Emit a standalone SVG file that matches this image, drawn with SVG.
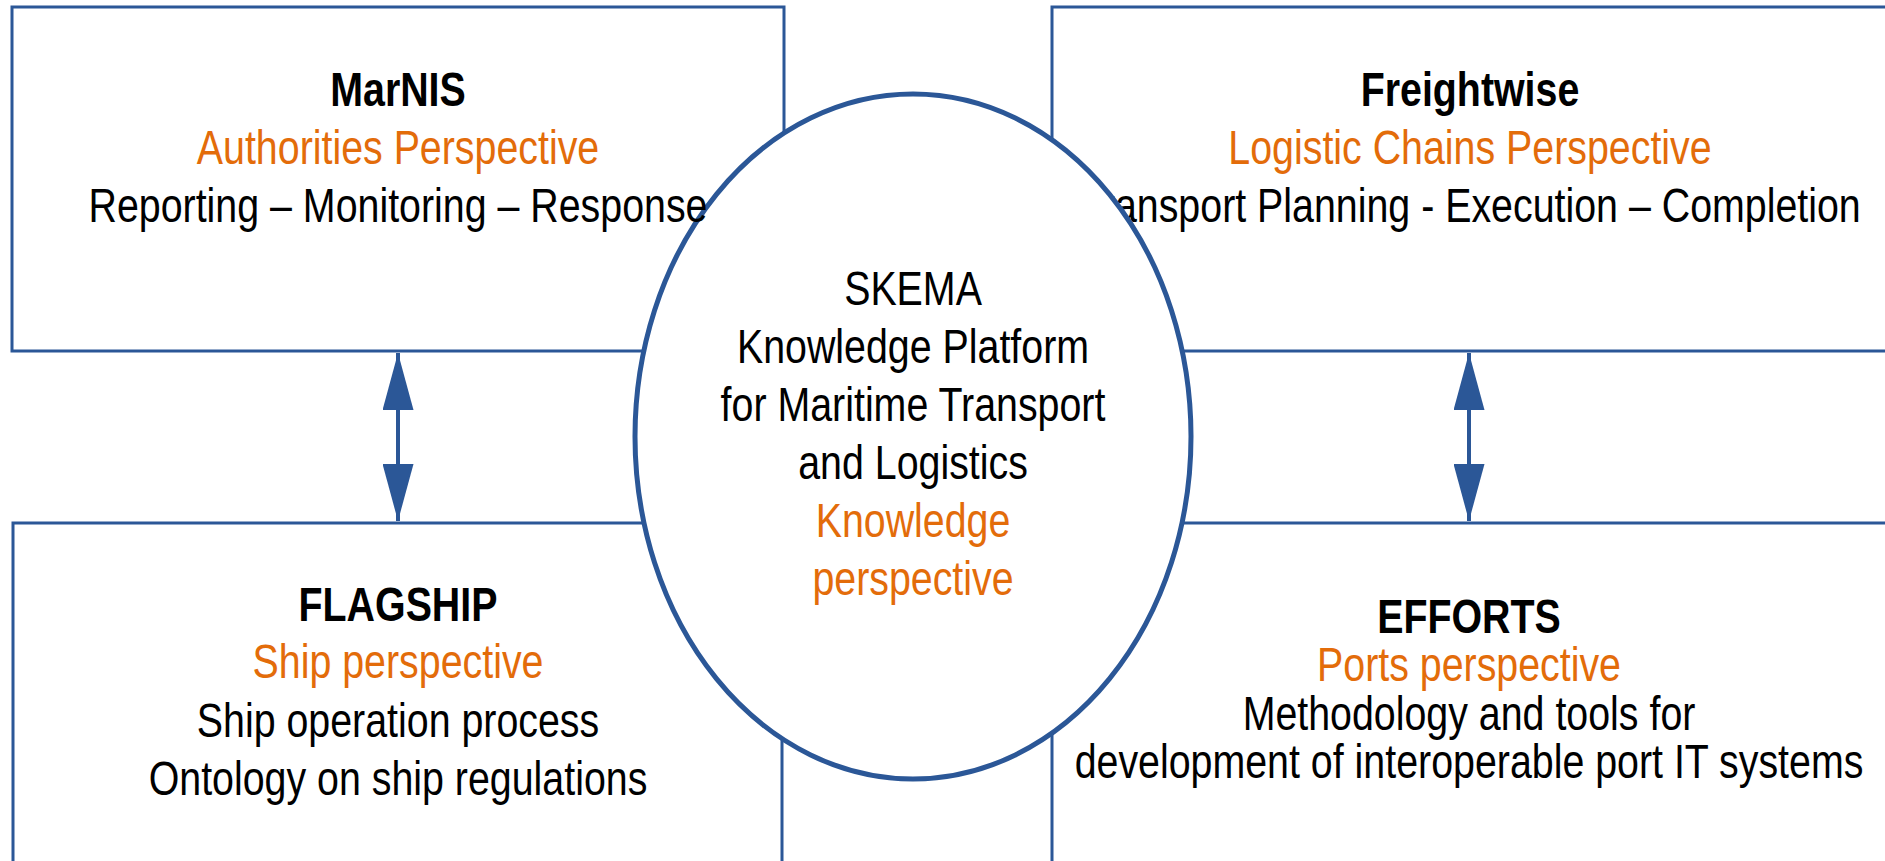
<svg xmlns="http://www.w3.org/2000/svg" width="1885" height="861" viewBox="0 0 1885 861">
  <style>
    .box { fill: #FFFFFF; stroke: #2B5797; stroke-width: 3; }
    .edge { fill: none; stroke: #2B5797; stroke-width: 3; }
    .ell { fill: #FFFFFF; stroke: #2B5797; stroke-width: 5; }
    .conn { stroke: #2B5797; stroke-width: 4; fill: none; }
    text { font-family: "Liberation Sans", Arial, sans-serif; font-size: 48px; text-anchor: middle; fill: #000000; }
    .t { font-weight: bold; }
    .o { fill: #E36C0A; }
    .c { font-size: 48px; }
  </style>
  <defs>
    <marker id="ah" viewBox="0 0 57 31" markerWidth="57" markerHeight="31" refX="57" refY="15.5" orient="auto-start-reverse" markerUnits="userSpaceOnUse">
      <path d="M0,0 L57,15.5 L0,31 Z" fill="#2B5797"/>
    </marker>
  </defs>
  <rect width="1885" height="861" fill="#FFFFFF"/>

  <g id="freightwise">
    <rect class="box" x="1052" y="7" width="840" height="344"/>
    <text class="t" transform="translate(1470,106) scale(0.82,1)">Freightwise</text>
    <text class="o" transform="translate(1470,164) scale(0.82,1)">Logistic Chains Perspective</text>
    <text transform="translate(1470,222) scale(0.82,1)">Transport Planning - Execution – Completion</text>
  </g>

  <g id="flagship">
    <rect class="box" x="13" y="523" width="769" height="360"/>
    <text class="t" transform="translate(398,621) scale(0.82,1)">FLAGSHIP</text>
    <text class="o" transform="translate(398,678) scale(0.82,1)">Ship perspective</text>
    <text transform="translate(398,737) scale(0.82,1)">Ship operation process</text>
    <text transform="translate(398,795) scale(0.82,1)">Ontology on ship regulations</text>
  </g>

  <g id="efforts">
    <rect class="box" x="1052" y="523" width="840" height="360"/>
    <text class="t" transform="translate(1469,633) scale(0.82,1)">EFFORTS</text>
    <text class="o" transform="translate(1469,681) scale(0.82,1)">Ports perspective</text>
    <text transform="translate(1469,730) scale(0.82,1)">Methodology and tools for</text>
    <text transform="translate(1469,778) scale(0.82,1)">development of interoperable port IT systems</text>
  </g>

  <g id="connectors">
    <line class="conn" x1="398" y1="353" x2="398" y2="521" marker-start="url(#ah)" marker-end="url(#ah)"/>
    <line class="conn" x1="1469" y1="353" x2="1469" y2="521" marker-start="url(#ah)" marker-end="url(#ah)"/>
  </g>

  <g id="skema">
    <ellipse class="ell" cx="913" cy="436.5" rx="278" ry="342.5"/>
    <text class="c" transform="translate(913,305) scale(0.82,1)">SKEMA</text>
    <text class="c" transform="translate(913,363) scale(0.82,1)">Knowledge Platform</text>
    <text class="c" transform="translate(913,421) scale(0.82,1)">for Maritime Transport</text>
    <text class="c" transform="translate(913,479) scale(0.82,1)">and Logistics</text>
    <text class="c o" transform="translate(913,537) scale(0.82,1)">Knowledge</text>
    <text class="c o" transform="translate(913,595) scale(0.82,1)">perspective</text>
  </g>

  <g id="marnis">
    <path class="edge" d="M784,133 V7 H12 V351 H644"/>
    <text class="t" transform="translate(398,106) scale(0.82,1)">MarNIS</text>
    <text class="o" transform="translate(398,164) scale(0.82,1)">Authorities Perspective</text>
    <text transform="translate(398,222) scale(0.82,1)">Reporting – Monitoring – Response</text>
  </g>
</svg>
